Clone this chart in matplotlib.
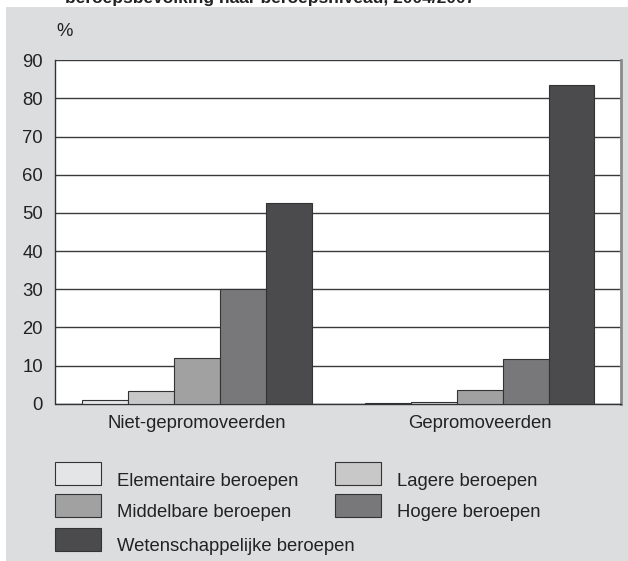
import matplotlib
matplotlib.use("Agg")
import matplotlib.pyplot as plt
from matplotlib.patches import Rectangle
import numpy as np

plt.rcParams['font.family'] = ['Liberation Sans', 'DejaVu Sans']

groups = ["Niet-gepromoveerden", "Gepromoveerden"]
series = ["Elementaire beroepen", "Lagere beroepen", "Middelbare beroepen",
          "Hogere beroepen", "Wetenschappelijke beroepen"]
elementaire = [1.0, 0.2]
lagere = [3.3, 0.45]
middelbare = [12.0, 3.6]
hogere = [30.0, 11.7]
wetenschappelijk = [52.5, 83.5]
values = [elementaire, lagere, middelbare, hogere, wetenschappelijk]
colors = ["#e4e5e7", "#c8c8c9", "#a1a1a2", "#78787a", "#4b4b4d"]
yticks = [0, 10, 20, 30, 40, 50, 60, 70, 80, 90]

W, H = 628, 561
FS = 13.3
fig = plt.figure(figsize=(W / 100, H / 100), dpi=100)
fig.patch.set_facecolor("white")

# gray panel
fig.patches.append(Rectangle((6 / W, 0), 1 - 6 / W, (H - 7) / H,
                             transform=fig.transFigure, facecolor="#dcdddf",
                             edgecolor="none", zorder=0))

# title (cut off at the top edge, as in the reference)
fig.text(65 / W, 1 - 3 / H, "beroepsbevolking naar beroepsniveau, 2004/2007",
         fontsize=12.5, fontweight="bold", color="#222222", va="baseline", ha="left")

ax = fig.add_axes([55.5 / W, (H - 403.7) / H, (621 - 55.5) / W, (403.7 - 60.3) / H])
ax.set_facecolor("white")
ax.set_zorder(2)

x = np.arange(len(groups))
bw = 0.1625
for i, (vals, c) in enumerate(zip(values, colors)):
    ax.bar(x + (i - 2) * bw, vals, width=bw, color=c, edgecolor="#333333",
           linewidth=0.8, zorder=3)

ax.set_xlim(-0.5, 1.5)
ax.set_ylim(0, 90)
ax.set_yticks(yticks)
ax.set_yticklabels([str(t) for t in yticks], fontsize=FS, color="#222222")
ax.set_xticks(x)
ax.set_xticklabels(groups, fontsize=FS, color="#222222")
ax.tick_params(axis="both", length=0)
ax.tick_params(axis="y", pad=9)
ax.tick_params(axis="x", pad=8)
ax.yaxis.grid(True, color="#3a3a3a", linewidth=1.0, zorder=1)
ax.set_axisbelow(True)
for s in ["left", "bottom"]:
    ax.spines[s].set_color("#333333")
    ax.spines[s].set_linewidth(1.0)
ax.spines["top"].set_visible(False)
ax.spines["right"].set_color("#8a8a8a")
ax.spines["right"].set_linewidth(2.0)

fig.text(56 / W, 1 - 31 / H, "%", fontsize=FS, color="#222222", va="center", ha="left")

# legend
legend_pos = [(55, 462.3), (334.7, 462.3), (55, 493.7), (334.7, 493.7), (55, 527.7)]
for (lx, ly), name, c in zip(legend_pos, series, colors):
    fig.patches.append(Rectangle((lx / W, 1 - (ly + 23) / H), 46 / W, 23 / H,
                                 transform=fig.transFigure, facecolor=c,
                                 edgecolor="#333333", linewidth=0.8, zorder=2))
    fig.text((lx + 62) / W, 1 - (ly + 23.4) / H, name, fontsize=FS,
             color="#222222", va="baseline", ha="left")

fig.savefig("out.png", dpi=100)
